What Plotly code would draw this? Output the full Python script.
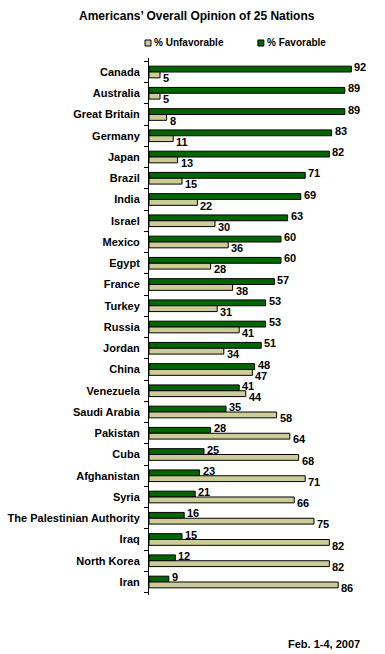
import plotly.graph_objects as go

countries = ["Canada", "Australia", "Great Britain", "Germany", "Japan", "Brazil", "India",
             "Israel", "Mexico", "Egypt", "France", "Turkey", "Russia", "Jordan", "China",
             "Venezuela", "Saudi Arabia", "Pakistan", "Cuba", "Afghanistan", "Syria",
             "The Palestinian Authority", "Iraq", "North Korea", "Iran"]
favorable = [92, 89, 89, 83, 82, 71, 69, 63, 60, 60, 57, 53, 53, 51, 48, 41, 35, 28, 25, 23, 21, 16, 15, 12, 9]
unfavorable = [5, 5, 8, 11, 13, 15, 22, 30, 36, 28, 38, 31, 41, 34, 47, 44, 58, 64, 68, 71, 66, 75, 82, 82, 86]

GREEN = "#006600"
TAN = "#CCCC99"
FONT = "Liberation Sans, Arial, sans-serif"

fig = go.Figure()
fig.add_trace(go.Bar(
    y=countries, x=favorable, orientation="h", name="% Favorable",
    marker=dict(color=GREEN, line=dict(color="black", width=1)),
    showlegend=False,
))
fig.add_trace(go.Bar(
    y=countries, x=unfavorable, orientation="h", name="% Unfavorable",
    marker=dict(color=TAN, line=dict(color="black", width=1)),
    showlegend=False,
))

# value labels, positioned from the data
for c, f, u in zip(countries, favorable, unfavorable):
    fig.add_annotation(x=f, y=c, text=f"<b>{f}</b>", showarrow=False,
                       xanchor="left", yanchor="middle", xshift=1, yshift=5,
                       font=dict(family=FONT, size=11, color="black"))
    fig.add_annotation(x=u, y=c, text=f"<b>{u}</b>", showarrow=False,
                       xanchor="left", yanchor="middle", xshift=1, yshift=-6,
                       font=dict(family=FONT, size=11, color="black"))

fig.update_layout(
    width=385, height=654,
    margin=dict(l=149, r=16, t=58, b=59, autoexpand=False),
    paper_bgcolor="white", plot_bgcolor="white",
    barmode="group", bargap=0.45, bargroupgap=0,
    font=dict(family=FONT, color="black"),
    title=dict(text="<b>Americans’ Overall Opinion of 25 Nations</b>",
               xref="container", x=0.511, xanchor="center",
               yref="container", y=0.976, yanchor="middle",
               font=dict(family=FONT, size=12, color="black")),
    showlegend=False,
)
fig.update_xaxes(range=[0, 100], showgrid=False, zeroline=False, showticklabels=False,
                 showline=False, ticks="")
fig.update_yaxes(categoryorder="array", categoryarray=countries, autorange="reversed",
                 showline=True, linecolor="black", linewidth=1,
                 ticks="outside", tickson="boundaries", ticklen=4, tickcolor="black",
                 ticklabelstandoff=6,
                 tickvals=countries, ticktext=[f"<b>{c}</b>" for c in countries],
                 tickfont=dict(family=FONT, size=11, color="black"),
                 showgrid=False)

# legend (manual, to match the compact key layout)
legend_items = [("% Unfavorable", TAN, -0.018), ("% Favorable", GREEN, 0.495)]
for label, color, x0 in legend_items:
    fig.add_shape(type="rect", xref="paper", yref="paper",
                  x0=x0, x1=x0 + 0.027, y0=1.0223, y1=1.0335,
                  fillcolor=color, line=dict(color="black", width=1))
    fig.add_annotation(text=f"<b>{label}</b>", xref="paper", yref="paper",
                       x=x0 + 0.032, xanchor="left", y=1.028, yanchor="middle",
                       showarrow=False, font=dict(family=FONT, size=10, color="black"))

fig.add_annotation(text="<b>Feb. 1-4, 2007</b>", xref="paper", yref="paper",
                   x=0.968, xanchor="right", y=-0.0912, yanchor="middle", showarrow=False,
                   font=dict(family=FONT, size=11, color="black"))

fig.write_html("out.html", config={"displayModeBar": False},
               post_script="document.body.style.margin='0';document.body.style.overflow='hidden';")
